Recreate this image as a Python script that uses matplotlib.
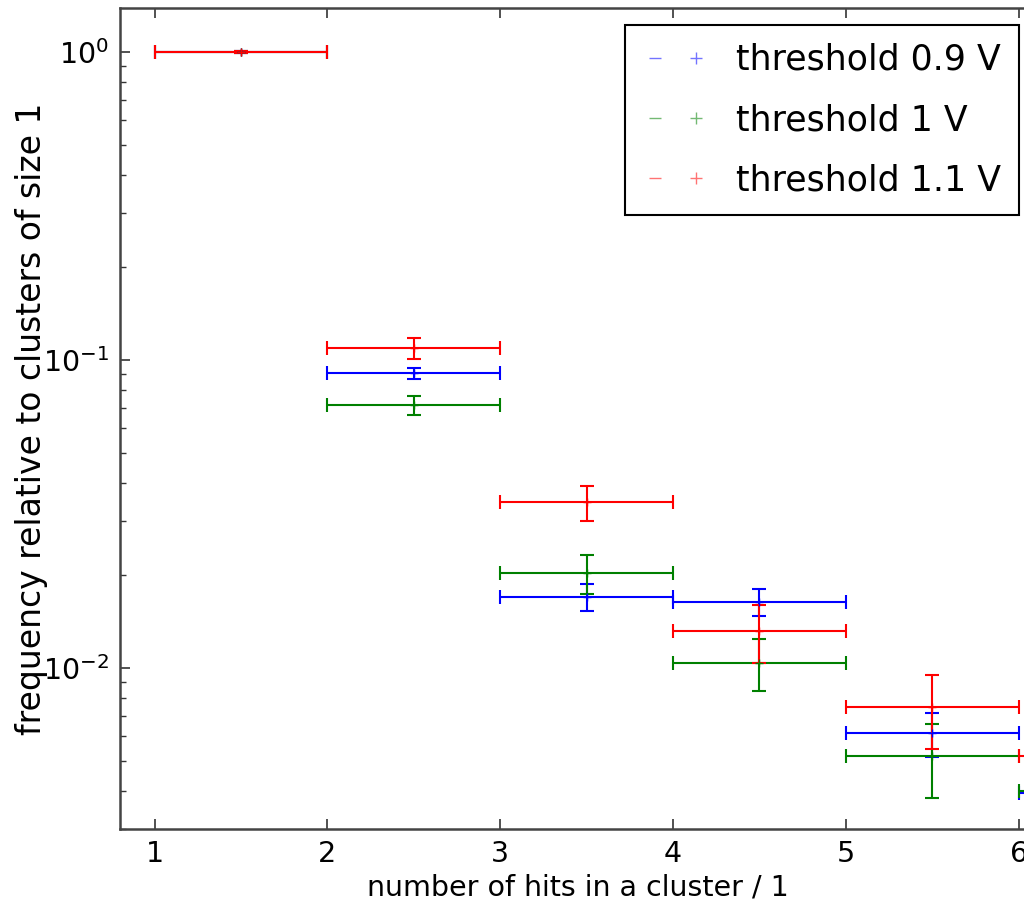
# -*- coding: utf-8 -*-

"""Cluster size frequencies for three discriminator thresholds."""

import matplotlib

matplotlib.use("Agg")
import matplotlib.pyplot as plt  # noqa: E402
from matplotlib.legend_handler import HandlerTuple  # noqa: E402
from matplotlib.lines import Line2D  # noqa: E402

# cluster size bins (centre of each bin, half width 0.5)
hits = [1.5, 2.5, 3.5, 4.5, 5.5, 6.5]
bin_half = [0.5, 0.5, 0.5, 0.5, 0.5, 0.5]

freq_09 = [1.0, 0.0907, 0.0170, 0.0164, 0.00615, 0.00393]
err_09 = [0.004, 0.0037, 0.0017, 0.0017, 0.0010, 0.0003]

freq_10 = [1.0, 0.0714, 0.0203, 0.0104, 0.00518, 0.00398]
err_10 = [0.004, 0.0050, 0.0029, 0.0020, 0.0014, 0.0003]

freq_11 = [1.0, 0.109, 0.0346, 0.0132, 0.00747, 0.00518]
err_11 = [0.004, 0.0085, 0.0045, 0.0028, 0.0020, 0.0010]

labels = ["threshold 0.9 V", "threshold 1 V", "threshold 1.1 V"]
colors = ["#0000ff", "#008000", "#ff0000"]


def main():
    plt.rcParams["axes.unicode_minus"] = False

    fig = plt.figure(figsize=(10.24, 9.06), dpi=100)
    # the axes run a little past the right edge of the picture
    ax = fig.add_axes([0.1172, 0.0850, 0.8945, 0.9062])

    series = [(freq_09, err_09), (freq_10, err_10), (freq_11, err_11)]
    for (f, e), c in zip(series, colors):
        ax.errorbar(hits, f, xerr=bin_half, yerr=e, fmt="+", color=c,
                    ecolor=c, elinewidth=1.5, capsize=5, capthick=1.5,
                    markersize=6, clip_on=True)

    ax.set_yscale("log")
    ax.set_xlim(0.8, 6.1)
    ax.set_ylim(0.003, 1.39)
    ax.set_xticks([1, 2, 3, 4, 5, 6])

    ax.set_xlabel("number of hits in a cluster / 1", fontsize=20.5)
    ax.set_ylabel("frequency relative to clusters of size 1", fontsize=23.8)
    ax.yaxis.set_label_coords(-0.079, 0.5)

    ax.tick_params(which="both", direction="in", top=True, right=True,
                   labelsize=20.5, colors="#333333", labelcolor="black")
    ax.tick_params(which="major", length=7, width=1.2, pad=8)
    ax.tick_params(which="minor", length=4, width=1.0)
    for s in ax.spines.values():
        s.set_color("#444444")
        s.set_linewidth(1.8)

    handles = [
        (Line2D([], [], color=c, marker="_", linestyle="none", markersize=9, alpha=0.55),
         Line2D([], [], color=c, marker="+", linestyle="none", markersize=9, alpha=0.55))
        for c in colors
    ]
    leg = ax.legend(handles, labels, loc="upper right", fontsize=25,
                    handler_map={tuple: HandlerTuple(ndivide=None)},
                    fancybox=False, framealpha=1, labelspacing=0.76,
                    borderpad=0.5, handlelength=1.9, handletextpad=0.8)
    leg.get_frame().set_edgecolor("black")
    leg.get_frame().set_linewidth(1.5)

    fig.savefig("out.png", dpi=100)


if __name__ == "__main__":
    main()
